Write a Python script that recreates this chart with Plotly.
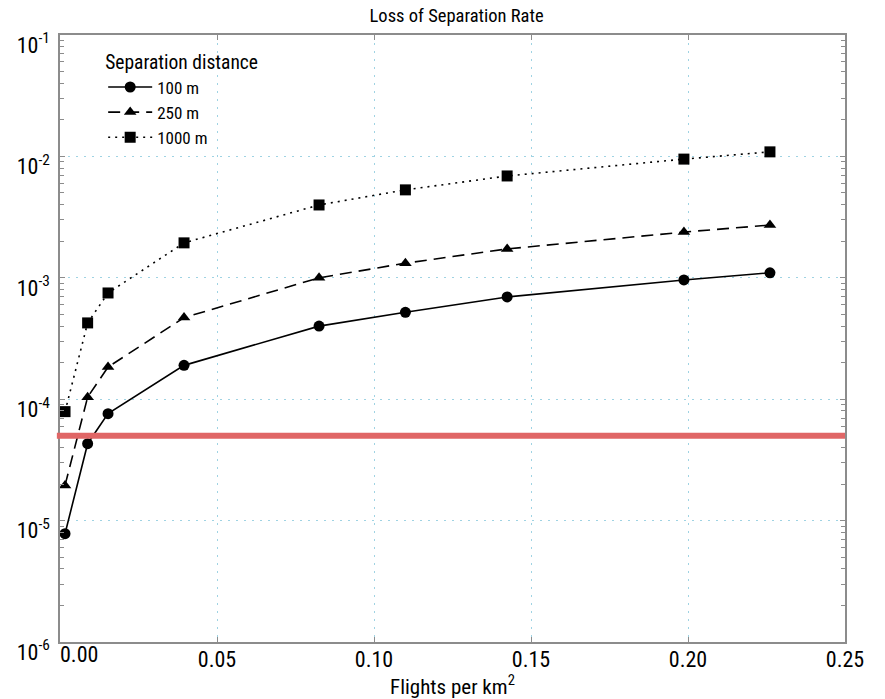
import plotly.graph_objects as go

density = [0.0016, 0.0088, 0.0153, 0.0395, 0.0825, 0.110, 0.1424, 0.1987, 0.2261]
rate_100m = [7.8e-6, 4.3e-5, 7.6e-5, 1.9e-4, 4.0e-4, 5.2e-4, 6.95e-4, 9.6e-4, 1.10e-3]
rate_250m = [1.95e-5, 1.04e-4, 1.84e-4, 4.7e-4, 1.0e-3, 1.32e-3, 1.73e-3, 2.38e-3, 2.72e-3]
rate_1000m = [7.9e-5, 4.25e-4, 7.5e-4, 1.94e-3, 3.98e-3, 5.3e-3, 6.9e-3, 9.5e-3, 1.09e-2]
threshold = 5e-5

series_names = ["100 m", "250 m", "1000 m"]
x_ticks = [0.0, 0.05, 0.10, 0.15, 0.20, 0.25]
x_ticktext = ["", "0.05", "0.10", "0.15", "0.20", "0.25"]
y_ticks = [1e-6, 1e-5, 1e-4, 1e-3, 1e-2, 1e-1]
y_ticktext = ["10<sup>-6</sup>", "10<sup>-5</sup>", "10<sup>-4</sup>", "10<sup>-3</sup>", "10<sup>-2</sup>", "10<sup>-1</sup>"]
y_minor = [m * 10.0 ** e for e in range(-6, -1) for m in range(2, 10)]

FONT = "Roboto Condensed, Roboto, sans-serif"
AX = "#8c8c8c"
GRID = "#9fd3e3"

fig = go.Figure()
styles = [("circle", "solid"), ("triangle-up", "12px,7px"), ("square", "2px,5px")]
for name, ys, (sym, dash) in zip(series_names, [rate_100m, rate_250m, rate_1000m], styles):
    fig.add_trace(go.Scatter(
        x=density, y=ys, name=name, mode="lines+markers",
        line=dict(color="black", width=1.6, dash=dash),
        marker=dict(symbol=sym, size=11, color="black"),
    ))

fig.add_shape(type="line", xref="paper", yref="y", x0=-0.004, x1=1, y0=threshold, y1=threshold,
              line=dict(color="#e06666", width=6), layer="above")

fig.add_annotation(x=0.0, y=0, xref="x", yref="paper", text="0.00", showarrow=False,
                   xanchor="left", yanchor="top", yshift=2, xshift=-2,
                   font=dict(family=FONT, size=22, color="black"))

fig.update_layout(
    width=877, height=691,
    margin=dict(l=52, r=40, t=27, b=57, autoexpand=False),
    paper_bgcolor="white", plot_bgcolor="white",
    font=dict(family=FONT, size=20, color="black"),
    title=dict(text="Loss of Separation Rate", x=0.5115, xanchor="center", y=0.999, yanchor="top",
               pad=dict(t=0), font=dict(family=FONT, size=18.5, color="black")),
    showlegend=True,
    legend=dict(
        title=dict(text="Separation distance", font=dict(family=FONT, size=19.5, color="black")),
        x=0.055, y=0.985, xanchor="left", yanchor="top",
        bgcolor="rgba(0,0,0,0)", borderwidth=0,
        font=dict(family=FONT, size=17, color="black"),
        itemwidth=44, tracegroupgap=0,
    ),
)

fig.update_xaxes(
    range=[0, 0.25], tickvals=x_ticks, ticktext=x_ticktext, automargin=False,
    showline=True, linecolor=AX, linewidth=1.5, mirror="ticks",
    ticks="inside", ticklen=5, tickcolor=AX,
    showgrid=True, gridcolor=GRID, griddash="2px,6px", gridwidth=1,
    zeroline=False, tickfont=dict(family=FONT, size=22, color="black"),
    ticklabelstandoff=-3,
    title=dict(text="Flights per km<sup>2</sup>", standoff=6, font=dict(family=FONT, size=21, color="black")),
)

fig.update_yaxes(
    type="log", range=[-6, -1], tickvals=y_ticks, ticktext=y_ticktext, automargin=False,
    showline=True, linecolor=AX, linewidth=1.5, mirror="ticks",
    ticks="inside", ticklen=5, tickcolor=AX,
    minor=dict(tickvals=y_minor, ticks="inside", ticklen=4, tickcolor=AX, showgrid=False),
    showgrid=True, gridcolor=GRID, griddash="2px,6px", gridwidth=1,
    zeroline=False, tickfont=dict(family=FONT, size=22, color="black"),
    ticklabelshift=10, ticklabelstandoff=4,
)

fig.write_html("out.html")
